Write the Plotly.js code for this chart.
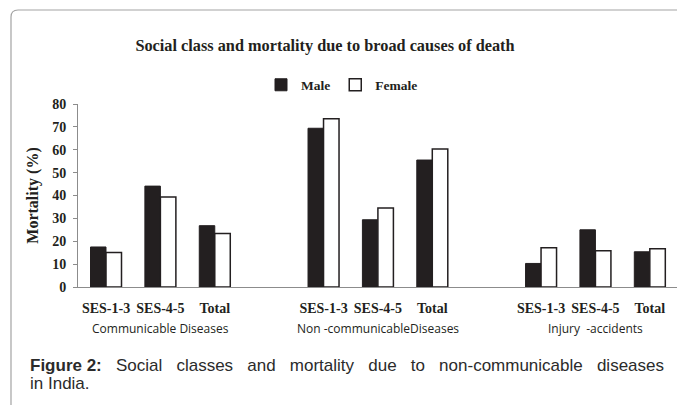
<!DOCTYPE html>
<html><head><meta charset="utf-8">
<script src="https://cdn.plot.ly/plotly-3.0.1.min.js"></script>
<style>html,body{margin:0;padding:0;background:#fff;} #chart{width:677px;height:405px;}</style>
</head><body><div id="chart"></div>
<script>
const groups = ["Communicable Diseases", "Non -communicableDiseases", "Injury  -accidents"];
const classes = ["SES-1-3", "SES-4-5", "Total"];
const male = [17.5, 44.1, 26.8, 69.4, 29.4, 55.5, 10.3, 25.0, 15.4];
const female = [15.1, 39.3, 23.4, 73.5, 34.5, 60.3, 17.2, 15.9, 16.7];
const yTicks = [0, 10, 20, 30, 40, 50, 60, 70, 80];

const xPos = [], xLabels = [], groupCenters = [];
groups.forEach((g, gi) => {
  classes.forEach((c, ci) => { xPos.push(gi * 4 + ci); xLabels.push(c); });
  groupCenters.push(gi * 4 + 1);
});

const W = 677, H = 405, L = 78, T = 104, B = 118;
const PW = W - L, PH = H - T - B;
const px2x = p => (p - L) / PW;
const py2y = p => (H - B - p) / PH;

const serif = "Liberation Serif, Times New Roman, serif";
const dark = "#231f20";
const gap = "\u00a0\u00a0 ";

const traces = [
  {type: "bar", name: "Male", x: xPos, y: male,
   marker: {color: dark, line: {color: dark, width: 1}}, hoverinfo: "skip"},
  {type: "bar", name: "Female", x: xPos, y: female,
   marker: {color: "#ffffff", line: {color: dark, width: 1.5}}, hoverinfo: "skip"}
];

const annotations = groups.map((g, i) => ({
  text: g, x: groupCenters[i], xref: "x", y: py2y(328), yref: "paper",
  xanchor: "center", yanchor: "middle", showarrow: false,
  font: {family: "Open Sans, sans-serif", size: 12, color: dark}
}));
annotations.push({
  text: "<b>Figure 2:</b>" + gap + ["Social", "classes", "and", "mortality", "due", "to", "non-communicable", "diseases"].join(gap),
  x: px2x(28), xref: "paper", y: py2y(365), yref: "paper", xanchor: "left", yanchor: "middle",
  showarrow: false, font: {family: "Liberation Sans, Arial, sans-serif", size: 17, color: "#2b2b2b"}
});
annotations.push({
  text: "in India.",
  x: px2x(28), xref: "paper", y: py2y(383), yref: "paper", xanchor: "left", yanchor: "middle",
  showarrow: false, font: {family: "Liberation Sans, Arial, sans-serif", size: 17, color: "#2b2b2b"}
});

const layout = {
  width: W, height: H,
  margin: {l: L, r: 0, t: T, b: B, pad: 0},
  paper_bgcolor: "#fff", plot_bgcolor: "#fff",
  title: {text: "Social class and mortality due to broad causes of death",
          x: 325 / W, xref: "container", xanchor: "center",
          y: 1 - 45 / H, yref: "container", yanchor: "middle",
          font: {family: serif, size: 16.3, weight: "bold", color: dark}},
  barmode: "group", bargap: 0.43, bargroupgap: 0,
  showlegend: true,
  legend: {orientation: "h", x: px2x(342), xanchor: "center", y: py2y(85), yanchor: "middle",
           font: {family: serif, size: 13.5, weight: "bold", color: dark},
           itemwidth: 30, bgcolor: "rgba(0,0,0,0)"},
  xaxis: {range: [-0.515, 10.5], tickvals: xPos, ticktext: xLabels, showgrid: false, zeroline: false,
          showline: true, linecolor: "#8c8c8c", linewidth: 1, ticks: "", ticklabelstandoff: 8,
          tickfont: {family: serif, size: 14, weight: "bold", color: dark}, fixedrange: true},
  yaxis: {range: [0, 80], tickvals: yTicks, showgrid: false, zeroline: false,
          showline: true, linecolor: "#8c8c8c", linewidth: 1, ticks: "outside", ticklen: 4, tickcolor: "#8c8c8c",
          ticklabelstandoff: 4,
          tickfont: {family: serif, size: 14, weight: "bold", color: dark},
          title: {text: "Mortality (%)", standoff: 9, font: {family: serif, size: 16, weight: "bold", color: dark}},
          fixedrange: true},
  annotations: annotations,
  shapes: [{type: "path", xref: "paper", yref: "paper",
            path: `M ${px2x(11)},${py2y(420)} L ${px2x(11)},${py2y(17)} Q ${px2x(11)},${py2y(10)} ${px2x(18)},${py2y(10)} L ${px2x(700)},${py2y(10)}`,
            line: {color: "#a3a3a3", width: 1.2}}]
};

Plotly.newPlot("chart", traces, layout, {staticPlot: true, displayModeBar: false});
</script></body></html>
